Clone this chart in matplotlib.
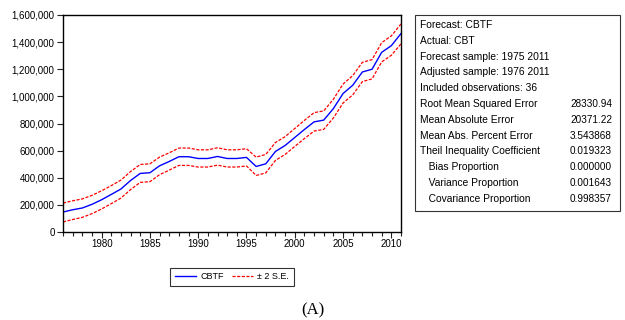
import matplotlib
matplotlib.use('Agg')
import matplotlib.pyplot as plt
from matplotlib.ticker import FuncFormatter, MultipleLocator
import numpy as np

plt.rcParams['font.family'] = ['Liberation Sans', 'DejaVu Sans']

# forecast CBTF with +/- 2 S.E. band, 1976-2011
years = list(range(1976, 2012))
cbtf = [147000, 164000, 177000, 204000, 238000, 277000, 317000, 380000, 432000, 437000,
        488000, 520000, 555000, 555000, 542000, 542000, 557000, 542000, 542000, 550000,
        483000, 503000, 594000, 638000, 697000, 756000, 812000, 825000, 910000, 1021000,
        1082000, 1180000, 1200000, 1325000, 1374000, 1463000]
upper = [213000, 230000, 244000, 270000, 304000, 342000, 383000, 446000, 498000, 503000,
         552000, 584000, 619000, 619000, 606000, 606000, 621000, 606000, 606000, 614000,
         552000, 572000, 660000, 703000, 763000, 823000, 880000, 893000, 979000, 1091000,
         1153000, 1251000, 1271000, 1396000, 1446000, 1534000]
lower = [74000, 92000, 108000, 135000, 170000, 209000, 250000, 313000, 366000, 371000,
         423000, 456000, 491000, 491000, 479000, 479000, 493000, 479000, 479000, 487000,
         417000, 436000, 528000, 572000, 631000, 689000, 744000, 757000, 841000, 951000,
         1011000, 1109000, 1129000, 1254000, 1303000, 1387000]

stat_labels = ['Forecast: CBTF', 'Actual: CBT', 'Forecast sample: 1975 2011',
               'Adjusted sample: 1976 2011', 'Included observations: 36',
               'Root Mean Squared Error', 'Mean Absolute Error', 'Mean Abs. Percent Error',
               'Theil Inequality Coefficient', '   Bias Proportion',
               '   Variance Proportion', '   Covariance Proportion']
stat_values = ['', '', '', '', '', '28330.94', '20371.22', '3.543868',
               '0.019323', '0.000000', '0.001643', '0.998357']

fig = plt.figure(figsize=(6.25, 3.2), dpi=100)
ax = fig.add_axes([63/625, 88/320, 338/625, 217/320])

ax.plot(years, cbtf, color='#0000ff', lw=1.0, label='CBTF')
ax.plot(years, upper, color='#ff0000', lw=0.9, ls=(0, (2.5, 1.2)), label='\u00b1 2 S.E.')
ax.plot(years, lower, color='#ff0000', lw=0.9, ls=(0, (2.5, 1.2)))

ax.set_xlim(1976, 2011)
ax.set_ylim(0, 1600000)
ax.xaxis.set_major_locator(MultipleLocator(5))
ax.xaxis.set_minor_locator(MultipleLocator(1))
ax.yaxis.set_major_locator(MultipleLocator(200000))
ax.yaxis.set_major_formatter(FuncFormatter(lambda v, p: '{:,.0f}'.format(v)))
ax.tick_params(axis='both', which='both', direction='out', labelsize=7, color='#222222', width=0.8)
ax.tick_params(axis='x', which='major', length=4, pad=1)
ax.tick_params(axis='x', which='minor', length=3)
ax.tick_params(axis='y', length=4, pad=2)
for s in ax.spines.values():
    s.set_linewidth(1.0)

leg = ax.legend(loc='upper center', bbox_to_anchor=(0.5, -0.145), ncol=2, fontsize=6.5,
                frameon=True, fancybox=False, edgecolor='black', handlelength=2.3,
                columnspacing=0.9, handletextpad=0.5, borderpad=0.5)
leg.get_frame().set_linewidth(0.8)

# statistics box
box = plt.Rectangle((415/625, 1 - 211/320), 205/625, 196/320, transform=fig.transFigure,
                    fill=False, edgecolor='#333333', lw=0.8)
fig.patches.append(box)
y0 = 1 - 25/320
dy = 15.8/320
for i, (lab, val) in enumerate(zip(stat_labels, stat_values)):
    fig.text(420/625, y0 - i*dy, lab, fontsize=7.4, va='center', ha='left')
    if val:
        fig.text(612/625, y0 - i*dy, val, fontsize=7.2, va='center', ha='right')

fig.text(313/625, 1 - 310/320, '(A)', fontsize=12, ha='center', va='center',
         family=['Liberation Serif', 'DejaVu Serif'])

fig.savefig('out.png', dpi=100)
